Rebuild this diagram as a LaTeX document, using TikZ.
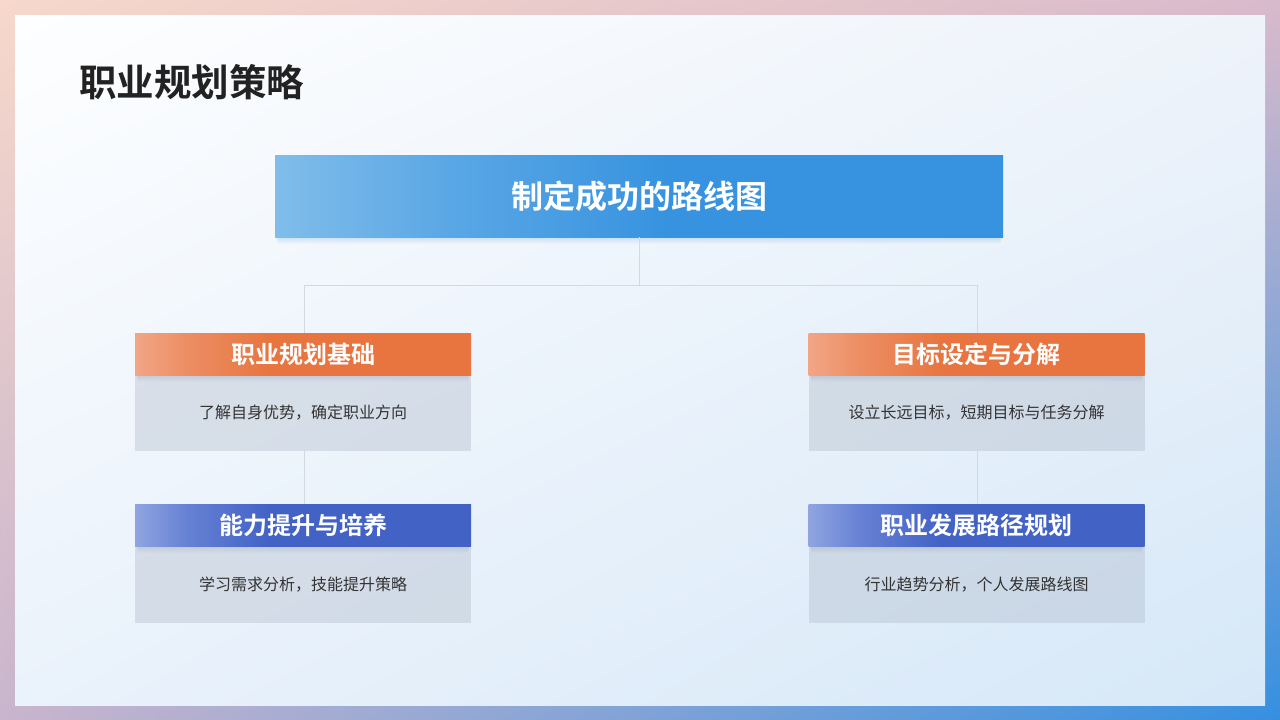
\documentclass[tikz,border=0pt]{standalone}
\usepackage{fontspec}
\newfontfamily\cjk{Noto Sans CJK SC}
\newfontfamily\cjkb{Noto Sans CJK SC Bold}
\usetikzlibrary{shadings}
\definecolor{frTL}{HTML}{F7D8CB}
\definecolor{frTR}{HTML}{D9BACB}
\definecolor{frBL}{HTML}{C9B5CD}
\definecolor{frBR}{HTML}{3590E0}
\definecolor{pnTL}{HTML}{FDFEFF}
\definecolor{pnTR}{HTML}{EEF3FA}
\definecolor{pnBL}{HTML}{EAF2FB}
\definecolor{pnBR}{HTML}{D6E8F8}
\definecolor{orL}{HTML}{F2A586}
\definecolor{orR}{HTML}{E8753F}
\definecolor{orM}{HTML}{EC8D62}
\definecolor{blL}{HTML}{80BDEA}
\definecolor{blM}{HTML}{5AA7E5}
\definecolor{blR}{HTML}{3793DF}
\definecolor{inL}{HTML}{90A4E0}
\definecolor{inM}{HTML}{6580D4}
\definecolor{inR}{HTML}{4262C6}
\definecolor{bodyfill}{RGB}{170,180,195}
\definecolor{conn}{HTML}{D3D9E2}
\definecolor{titlec}{HTML}{222222}
\definecolor{textc}{HTML}{333333}
\definecolor{shadc}{HTML}{5A6A8A}
\pgfdeclarehorizontalshading{orsh}{100bp}{color(0bp)=(orL); color(25bp)=(orL); color(33bp)=(orM); color(45bp)=(orR); color(100bp)=(orR)}
\pgfdeclarehorizontalshading{insh}{100bp}{color(0bp)=(inL); color(25bp)=(inL); color(33bp)=(inM); color(45bp)=(inR); color(100bp)=(inR)}
\pgfdeclarehorizontalshading{blsh}{100bp}{color(0bp)=(blL); color(25bp)=(blL); color(37bp)=(blM); color(52bp)=(blR); color(100bp)=(blR)}
\newcommand{\softshade}[5]{% x1 x2 ybottom color opacity
  \foreach \k in {1,...,7}{
    \fill[#4, opacity=#5] (#1+\k*0.4, #3-2) rectangle (#2-\k*0.4, #3+\k);
  }}
\tikzset{
  hdr/.style={minimum width=336pt, minimum height=42pt, inner sep=0pt, text=white,
    font=\cjkb\fontsize{24}{28}\selectfont},
  orhdr/.style={hdr, shading=orsh},
  inhdr/.style={hdr, shading=insh},
  bodybox/.style={minimum width=336pt, minimum height=76pt, inner sep=0pt, fill=bodyfill, fill opacity=0.35, text opacity=1, text=textc,
    font=\cjk\fontsize{16}{19}\selectfont},
  connline/.style={draw=conn, line width=0.8pt}
}
\begin{document}
\begin{tikzpicture}[x=1pt,y=-1pt]
\useasboundingbox (0,0) rectangle (1280,720);
% frame
\shade[upper left=frTL, upper right=frTR, lower left=frBL, lower right=frBR] (0,0) rectangle (1280,720);
\shade[upper left=pnTL, upper right=pnTR, lower left=pnBL, lower right=pnBR] (15,15) rectangle (1265,705);
% title
\node[anchor=west, text=titlec, font=\cjkb\fontsize{37.5}{42}\selectfont, inner sep=0pt] (title) at (79,82) {职业规划策略};
% junction coordinates
\coordinate (jc) at (639,285);
\coordinate (jl) at (304,285);
\coordinate (jr) at (977,285);
% top box
\softshade{275}{1003}{237}{blR}{0.03}
\node[minimum width=728pt, minimum height=82pt, inner sep=0pt, shading=blsh,
  text=white, font=\cjkb\fontsize{32}{36}\selectfont] (top) at (639,196) {制定成功的路线图};
% card bodies
\node[bodybox] (b1) at (303,413) {了解自身优势，确定职业方向};
\node[bodybox] (b2) at (303,584.5) {学习需求分析，技能提升策略};
\node[bodybox] (b3) at (976.5,413) {设立长远目标，短期目标与任务分解};
\node[bodybox] (b4) at (976.5,584.5) {行业趋势分析，个人发展路线图};
% header shadows
\softshade{135}{471}{375}{shadc}{0.025}
\softshade{135}{471}{546}{shadc}{0.025}
\softshade{808.5}{1144.5}{375}{shadc}{0.025}
\softshade{808.5}{1144.5}{546}{shadc}{0.025}
% headers
\node[orhdr] (h1) at (303,354) {职业规划基础};
\node[inhdr] (h2) at (303,525) {能力提升与培养};
\node[orhdr] (h3) at (976.5,354) {目标设定与分解};
\node[inhdr] (h4) at (976.5,525) {职业发展路径规划};
% connectors
\draw[connline] (top.south) -- (jc);
\draw[connline] (jl) -- (jr);
\draw[connline] (jl) -- (jl |- h1.north);
\draw[connline] (jr) -- (jr |- h3.north);
\draw[connline] (b1.south -| jl) -- (h2.north -| jl);
\draw[connline] (b3.south -| jr) -- (h4.north -| jr);
\end{tikzpicture}
\end{document}
